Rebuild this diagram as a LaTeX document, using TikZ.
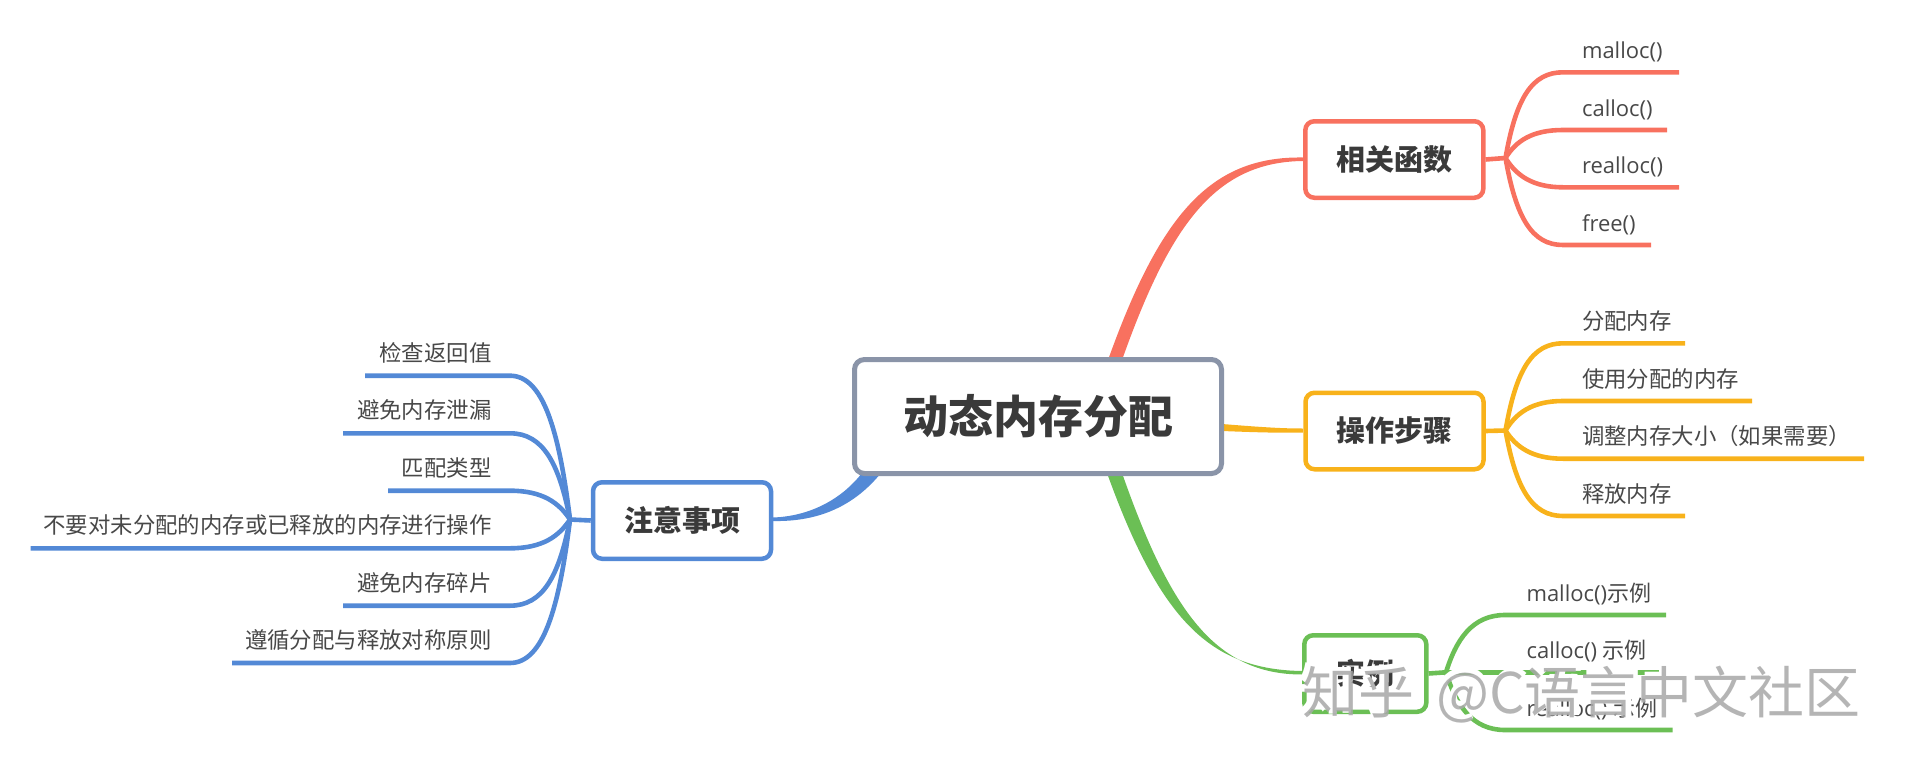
\documentclass[tikz,border=0pt]{standalone}
\usepackage{xcolor}
\usepackage{fontspec}
\setmainfont{Open Sans}
\newfontfamily\cjk{Noto Sans CJK SC}
\definecolor{rootgray}{HTML}{8A94A8}
\definecolor{fnred}{HTML}{F8715F}
\definecolor{opyellow}{HTML}{F8B21B}
\definecolor{exgreen}{HTML}{6BBF55}
\definecolor{noteblue}{HTML}{5389D6}
\definecolor{inkgray}{HTML}{3A3A3A}
\definecolor{leafgray}{HTML}{484848}
\definecolor{markgray}{HTML}{A8A8A8}
\tikzset{
  rootbox/.style={draw=rootgray, line width=5pt, rounded corners=10pt, fill=white, text=inkgray, minimum width=367pt, minimum height=114pt, font=\cjk\bfseries\fontsize{45}{45}\selectfont},
  topicbox/.style={line width=4.5pt, rounded corners=9pt, fill=white, text=inkgray, minimum height=76.5pt, font=\cjk\bfseries\fontsize{29}{29}\selectfont},
  branch/.style={line width=4.6pt},
  leafright/.style={anchor=base west, text=leafgray, font=\fontsize{22}{22}\selectfont},
  leafleft/.style={anchor=base east, text=leafgray, font=\cjk\fontsize{22.4}{22.4}\selectfont},
  markfront/.style={anchor=base west, inner sep=0pt, font=\cjk\fontsize{56}{56}\selectfont}
}
\begin{document}
\begin{tikzpicture}[x=1pt, y=-1pt]
    \useasboundingbox (0, 0) rectangle (1906, 771);
    \coordinate (fnin1) at (1303, 157.5);
    \coordinate (fnin2) at (1303, 161);
    \coordinate (opin1) at (1303, 428.5);
    \coordinate (opin2) at (1303, 432.5);
    \coordinate (exin1) at (1303, 671);
    \coordinate (exin2) at (1303, 674.5);
    \coordinate (notein1) at (773, 517.5);
    \coordinate (notein2) at (773, 521);
    \coordinate (rootred1) at (1108, 360);
    \coordinate (rootred2) at (1122, 360);
    \coordinate (rootyel1) at (1222, 424);
    \coordinate (rootyel2) at (1222, 431);
    \coordinate (rootgrn1) at (1107, 473);
    \coordinate (rootgrn2) at (1122, 473);
    \coordinate (rootblu1) at (862, 473);
    \coordinate (rootblu2) at (881, 473);
    \node[topicbox, draw=fnred, minimum width=178pt] (fn) at (1394.3, 159.5) {相关函数};
    \node[topicbox, draw=opyellow, minimum width=178pt] (op) at (1394.5, 431) {操作步骤};
    \node[topicbox, draw=exgreen, minimum width=122pt] (ex) at (1365.3, 673.5) {实例};
    \node[topicbox, draw=noteblue, minimum width=178pt] (note) at (682, 520.5) {注意事项};
    \fill[fnred] (fnin2) .. controls (1215, 162) and (1170, 225) .. (rootred2) -- (rootred1) .. controls (1160, 215) and (1210, 156) .. (fnin1) -- cycle;
    \fill[opyellow] (opin2) .. controls (1280, 433) and (1260, 432.5) .. (rootyel2) -- (rootyel1) .. controls (1260, 427) and (1280, 428.5) .. (opin1) -- cycle;
    \fill[exgreen] (exin2) .. controls (1215, 675) and (1170, 610) .. (rootgrn2) -- (rootgrn1) .. controls (1160, 620) and (1210, 670) .. (exin1) -- cycle;
    \fill[noteblue] (notein2) .. controls (820, 522) and (855, 505) .. (rootblu2) -- (rootblu1) .. controls (845, 495) and (815, 516) .. (notein1) -- cycle;
    \node[rootbox] (root) at (1038, 416.5) {动态内存分配};
    \coordinate (fnfork) at (1505.5, 158);
    \coordinate (fnend1) at (1679, 72.3);
    \coordinate (fnend2) at (1667, 130);
    \coordinate (fnend3) at (1679, 187.3);
    \coordinate (fnend4) at (1651, 245);
    \draw[branch, fnred] (fn.east) -- (fnfork);
    \draw[branch, fnred] (fnfork) .. controls (1516, 98) and (1532, 72.3) .. (1563, 72.3) -- (fnend1);
    \draw[branch, fnred] (fnfork) .. controls (1516, 141) and (1532, 130) .. (1563, 130) -- (fnend2);
    \draw[branch, fnred] (fnfork) .. controls (1516, 175) and (1532, 187.3) .. (1563, 187.3) -- (fnend3);
    \draw[branch, fnred] (fnfork) .. controls (1516, 218) and (1532, 245) .. (1563, 245) -- (fnend4);
    \node[leafright] (fn1) at (1578.5, 58) {malloc()};
    \node[leafright] (fn2) at (1578.5, 116) {calloc()};
    \node[leafright] (fn3) at (1578.5, 173) {realloc()};
    \node[leafright] (fn4) at (1578.5, 231) {free()};
    \coordinate (opfork) at (1505.5, 430.5);
    \coordinate (opend1) at (1685, 343.3);
    \coordinate (opend2) at (1752, 401);
    \coordinate (opend3) at (1864, 458.7);
    \coordinate (opend4) at (1685, 516);
    \draw[branch, opyellow] (op.east) -- (opfork);
    \draw[branch, opyellow] (opfork) .. controls (1516, 370) and (1532, 343.3) .. (1563, 343.3) -- (opend1);
    \draw[branch, opyellow] (opfork) .. controls (1516, 413) and (1532, 401) .. (1563, 401) -- (opend2);
    \draw[branch, opyellow] (opfork) .. controls (1516, 447) and (1532, 458.7) .. (1563, 458.7) -- (opend3);
    \draw[branch, opyellow] (opfork) .. controls (1516, 489) and (1532, 516) .. (1563, 516) -- (opend4);
    \node[leafright] (op1) at (1578.5, 329) {\cjk\fontsize{22.4}{22.4}\selectfont 分配内存};
    \node[leafright] (op2) at (1578.5, 387) {\cjk\fontsize{22.4}{22.4}\selectfont 使用分配的内存};
    \node[leafright] (op3) at (1578.5, 444) {\cjk\fontsize{22.4}{22.4}\selectfont 调整内存大小（如果需要）};
    \node[leafright] (op4) at (1578.5, 502) {\cjk\fontsize{22.4}{22.4}\selectfont 释放内存};
    \coordinate (exfork) at (1446, 672.3);
    \coordinate (exend1) at (1666, 615);
    \coordinate (exend2) at (1659, 672.3);
    \coordinate (exend3) at (1672.6, 730);
    \draw[branch, exgreen] (ex.east) -- (exfork);
    \draw[branch, exgreen] (exfork) .. controls (1456, 640) and (1472, 615) .. (1505, 615) -- (exend1);
    \draw[branch, exgreen] (exfork) -- (exend2);
    \draw[branch, exgreen] (exfork) .. controls (1456, 705) and (1472, 730) .. (1505, 730) -- (exend3);
    \node[leafright] (ex1) at (1523, 601) {malloc(){\cjk\fontsize{22}{22}\selectfont 示例}};
    \node[leafright] (ex2) at (1523, 658) {calloc() {\cjk\fontsize{22}{22}\selectfont 示例}};
    \node[leafright] (ex3) at (1523, 716) {realloc() {\cjk\fontsize{22}{22}\selectfont 示例}};
    \coordinate (notefork) at (570, 519.5);
    \coordinate (noteend1) at (365, 375.7);
    \coordinate (noteend2) at (343, 433.3);
    \coordinate (noteend3) at (388, 490.7);
    \coordinate (noteend4) at (30.6, 548.3);
    \coordinate (noteend5) at (343, 605.7);
    \coordinate (noteend6) at (232, 663);
    \draw[branch, noteblue] (note.west) -- (notefork);
    \draw[branch, noteblue] (notefork) .. controls (559, 430) and (543, 375.7) .. (510, 375.7) -- (noteend1);
    \draw[branch, noteblue] (notefork) .. controls (559, 463) and (543, 433.3) .. (510, 433.3) -- (noteend2);
    \draw[branch, noteblue] (notefork) .. controls (559, 503) and (543, 490.7) .. (510, 490.7) -- (noteend3);
    \draw[branch, noteblue] (notefork) .. controls (559, 536) and (543, 548.3) .. (510, 548.3) -- (noteend4);
    \draw[branch, noteblue] (notefork) .. controls (559, 576) and (543, 605.7) .. (510, 605.7) -- (noteend5);
    \draw[branch, noteblue] (notefork) .. controls (559, 609) and (543, 663) .. (510, 663) -- (noteend6);
    \node[leafleft] (note1) at (495, 361) {检查返回值};
    \node[leafleft] (note2) at (495, 418) {避免内存泄漏};
    \node[leafleft] (note3) at (495, 476) {匹配类型};
    \node[leafleft] (note4) at (495, 533) {不要对未分配的内存或已释放的内存进行操作};
    \node[leafleft] (note5) at (495, 591) {避免内存碎片};
    \node[leafleft] (note6) at (495, 648) {遵循分配与释放对称原则};
    \node[markfront, text=white] (markback) at (1299, 710) {\bfseries 知乎\hspace{22pt}@C语言中文社区};
    \node[markfront, text=markgray, text opacity=.85] (mark) at (1302, 713) {知乎\hspace{22pt}@C语言中文社区};
\end{tikzpicture}
\end{document}
